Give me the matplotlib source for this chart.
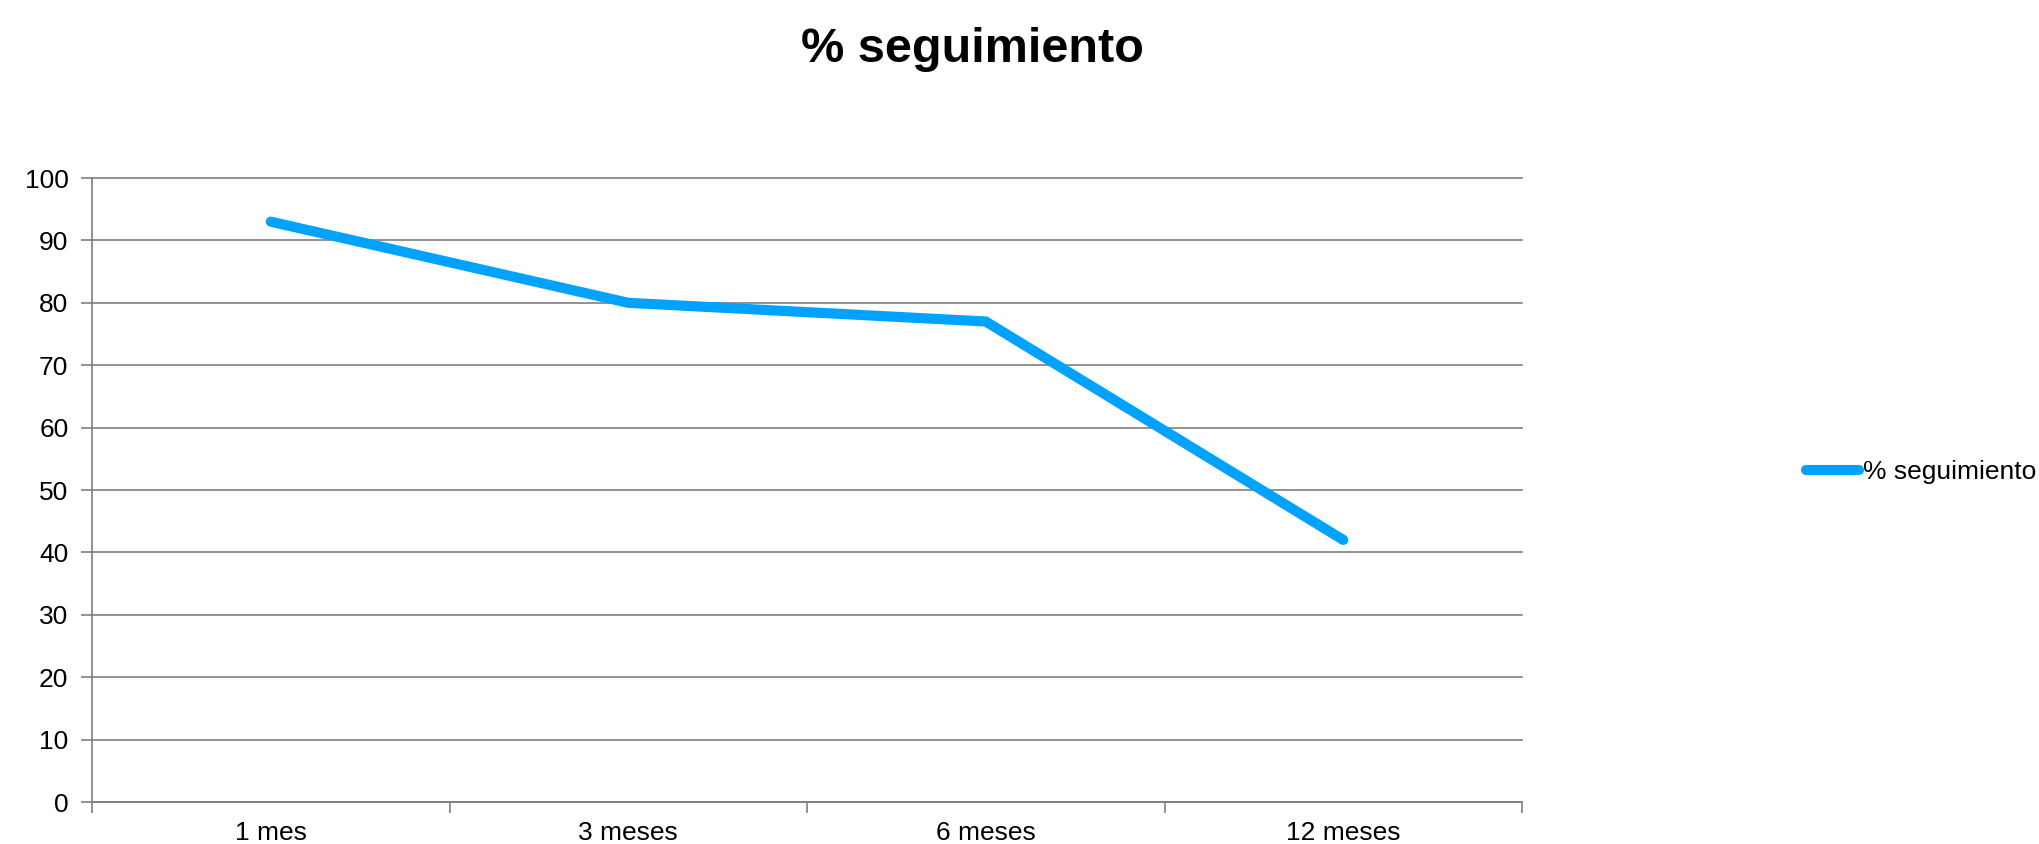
import matplotlib
matplotlib.use("Agg")
import matplotlib.pyplot as plt
from matplotlib.ticker import FixedLocator, NullFormatter

plt.rcParams['font.family'] = ['Liberation Sans', 'DejaVu Sans']

categories = ["1 mes", "3 meses", "6 meses", "12 meses"]
values = [93, 80, 77, 42]
series_name = "% seguimiento"
title = "% seguimiento"
yticks = [0, 10, 20, 30, 40, 50, 60, 70, 80, 90, 100]

W, H = 2039, 844
fig = plt.figure(figsize=(W / 100, H / 100), dpi=100)
ax = fig.add_axes([92 / W, 42 / H, (1522 - 92) / W, (802 - 178) / H])

x = list(range(len(categories)))
ax.plot(x, values, color="#00A2FF", lw=7.3, solid_capstyle="round",
        solid_joinstyle="miter", label=series_name, zorder=3)

ax.set_xlim(-0.5, len(categories) - 0.5)
ax.set_ylim(0, 100)
ax.set_yticks(yticks)
ax.yaxis.grid(True, color="#7f7f7f", lw=1.2)
ax.set_axisbelow(True)
for gl in ax.get_ygridlines():
    gl.set_clip_on(False)

ax.set_xticks(x)
ax.set_xticklabels(categories)
ax.xaxis.set_minor_locator(FixedLocator([i - 0.5 for i in range(len(categories) + 1)]))
ax.xaxis.set_minor_formatter(NullFormatter())
ax.tick_params(axis="x", which="major", length=0, pad=14, labelsize=19)
ax.tick_params(axis="x", which="minor", length=8, width=1.2, color="#7f7f7f", direction="out")
ax.tick_params(axis="y", which="major", length=8, width=1.2, color="#7f7f7f",
               direction="out", pad=9, labelsize=19)

for s in ["top", "right"]:
    ax.spines[s].set_visible(False)
for s in ["left", "bottom"]:
    ax.spines[s].set_color("#7f7f7f")
    ax.spines[s].set_linewidth(1.2)

fig.text(972 / W, 1 - 62 / H, title, ha="center", va="baseline",
         fontsize=35, fontweight="bold")

leg = ax.legend(loc="center left", bbox_to_anchor=(1806 / W, 1 - 472 / H),
                bbox_transform=fig.transFigure, frameon=False, fontsize=19,
                handlelength=2.0, handletextpad=0.15, borderpad=0, borderaxespad=0)

fig.savefig("out.png", dpi=100)
